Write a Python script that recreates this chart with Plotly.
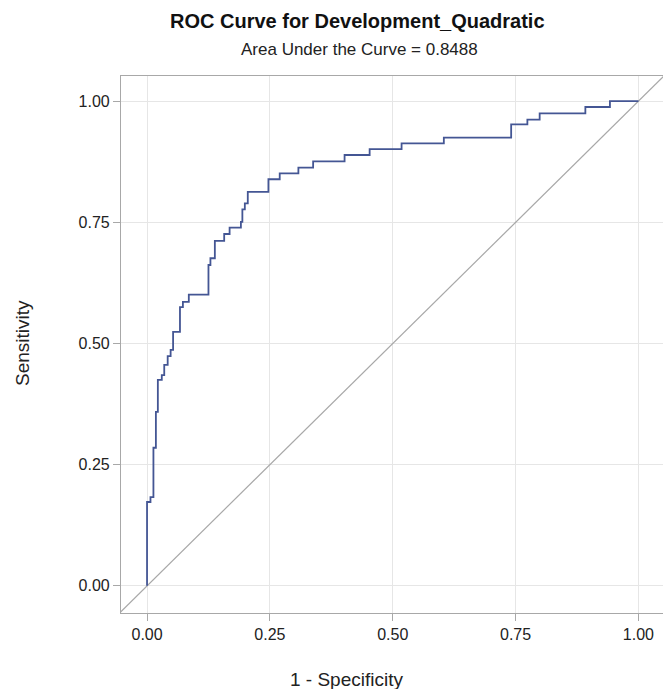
import plotly.graph_objects as go

# ROC curve step vertices (1 - specificity, sensitivity)
fpr = [0.0, 0.0, 0.007, 0.013, 0.018, 0.022, 0.030, 0.035, 0.042, 0.048,
       0.053, 0.067, 0.073, 0.085, 0.125, 0.129, 0.138, 0.157, 0.168, 0.191,
       0.194, 0.199, 0.205, 0.247, 0.270, 0.308, 0.338, 0.402, 0.453, 0.518,
       0.604, 0.741, 0.774, 0.799, 0.892, 0.942, 1.0]
tpr = [0.0, 0.173, 0.183, 0.285, 0.359, 0.425, 0.435, 0.456, 0.474, 0.487,
       0.524, 0.575, 0.586, 0.601, 0.662, 0.676, 0.712, 0.726, 0.739, 0.751,
       0.777, 0.789, 0.813, 0.839, 0.851, 0.863, 0.876, 0.889, 0.901, 0.913,
       0.925, 0.952, 0.962, 0.975, 0.988, 1.0, 1.0]

ref_x = [-0.06, 1.06]
ref_y = [-0.06, 1.06]

tick_vals = [0.0, 0.25, 0.5, 0.75, 1.0]
tick_text = ["0.00", "0.25", "0.50", "0.75", "1.00"]

title = "ROC Curve for Development_Quadratic"
subtitle = "Area Under the Curve = 0.8488"
x_title = "1 - Specificity"
y_title = "Sensitivity"

FONT = "Liberation Sans, Arial, sans-serif"
GRID = "#E6E6E6"
FRAME = "#A8A8A8"

L, R, T, B = 121, 0, 76, 76
W, H = 663, 689
pw, ph = W - L - R, H - T - B

fig = go.Figure()
fig.add_trace(go.Scatter(x=ref_x, y=ref_y, mode="lines",
                         line=dict(color="#A8A8A8", width=1.2),
                         hoverinfo="skip", showlegend=False))
fig.add_trace(go.Scatter(x=fpr, y=tpr, mode="lines", line_shape="hv",
                         line=dict(color="#445694", width=1.8),
                         showlegend=False))

axis_common = dict(
    tickvals=tick_vals, ticktext=tick_text,
    showgrid=True, gridcolor=GRID, gridwidth=1,
    zeroline=False, showline=True, linecolor=FRAME, linewidth=1.2,
    mirror=True, ticks="outside", ticklen=7, tickcolor=FRAME,
    tickfont=dict(family=FONT, size=16, color="#222222"),
)

def px_x(px):
    return (px - L) / pw

def px_y(py):
    return 1 + (T - py) / ph

fig.update_layout(
    width=W, height=H,
    margin=dict(l=L, r=R, t=T, b=B),
    paper_bgcolor="white", plot_bgcolor="white",
    font=dict(family=FONT, color="#222222"),
    xaxis=dict(range=[-0.053, 1.05], **axis_common),
    yaxis=dict(range=[-0.056, 1.052], **axis_common),
    annotations=[
        dict(text="<b>" + title + "</b>", x=px_x(357), y=px_y(21),
             xref="paper", yref="paper", xanchor="center", yanchor="middle",
             showarrow=False, font=dict(family=FONT, size=20, color="#111111")),
        dict(text=subtitle, x=px_x(359), y=px_y(50),
             xref="paper", yref="paper", xanchor="center", yanchor="middle",
             showarrow=False, font=dict(family=FONT, size=17, color="#222222")),
        dict(text=x_title, x=px_x(346), y=px_y(679),
             xref="paper", yref="paper", xanchor="center", yanchor="middle",
             showarrow=False, font=dict(family=FONT, size=19, color="#222222")),
        dict(text=y_title, x=px_x(22), y=px_y(343), textangle=-90,
             xref="paper", yref="paper", xanchor="center", yanchor="middle",
             showarrow=False, font=dict(family=FONT, size=19, color="#222222")),
    ],
)

fig.write_html("out.html")
